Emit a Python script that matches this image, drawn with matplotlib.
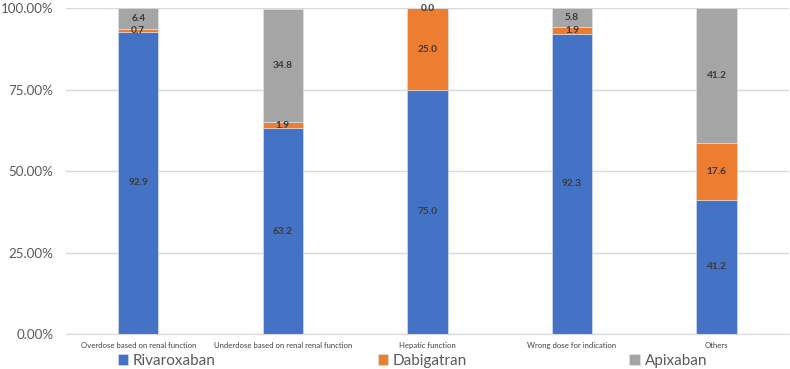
import matplotlib
matplotlib.use("Agg")
import matplotlib.pyplot as plt
import numpy as np

categories = ["Overdose based on renal function",
              "Underdose based on renal renal function",
              "Hepatic function",
              "Wrong dose for indication",
              "Others"]
rivaroxaban = [92.9, 63.2, 75.0, 92.3, 41.2]
dabigatran = [0.7, 1.9, 25.0, 1.9, 17.6]
apixaban = [6.4, 34.8, 0.0, 5.8, 41.2]

series = [("Rivaroxaban", rivaroxaban, "#4472C4"),
          ("Dabigatran", dabigatran, "#ED7D31"),
          ("Apixaban", apixaban, "#A5A5A5")]

plt.rcParams['font.family'] = ['Lato', 'DejaVu Sans']

fig = plt.figure(figsize=(7.9, 3.69), dpi=100)
ax = fig.add_axes([0.0835, 0.095, 0.915, 0.882])

x = np.arange(len(categories))
bottom = np.zeros(len(categories))
handles = []
for name, vals, color in series:
    vals = np.array(vals)
    bars = ax.bar(x, vals, 0.28, bottom=bottom, color=color,
                  edgecolor="#dfe6f3", linewidth=0.4, label=name, zorder=3)
    handles.append(bars)
    for xi, b, v in zip(x, bottom, vals):
        ax.text(xi, b + v / 2, "%.1f" % v, ha="center", va="center",
                fontsize=7.3, fontweight="bold", color="#3a3a3a", zorder=4)
    bottom += vals

ax.set_xlim(-0.5, len(categories) - 0.5)
ax.set_ylim(0, 100)
ax.set_yticks([0, 25, 50, 75, 100])
ax.set_yticklabels(["%.2f%%" % t for t in [0, 25, 50, 75, 100]],
                   fontsize=9.6, color="#595959")
ax.set_xticks(x)
ax.set_xticklabels(categories, fontsize=5.6, color="#404040")
ax.tick_params(axis="both", length=0)
ax.tick_params(axis="y", pad=9)
ax.tick_params(axis="x", pad=6)
ax.yaxis.grid(True, color="#D9D9D9", linewidth=1, zorder=0)
for s in ["top", "right", "left"]:
    ax.spines[s].set_visible(False)
ax.spines["bottom"].set_color("#D9D9D9")
ax.spines["bottom"].set_zorder(5)

leg = fig.legend(handles=handles, loc="center", bbox_to_anchor=(0.522, 0.022),
                 ncol=3, frameon=False, fontsize=11, handlelength=0.7,
                 handleheight=0.7, handletextpad=0.3, columnspacing=10.6,
                 labelcolor="#595959")

fig.savefig("out.png", dpi=100)
